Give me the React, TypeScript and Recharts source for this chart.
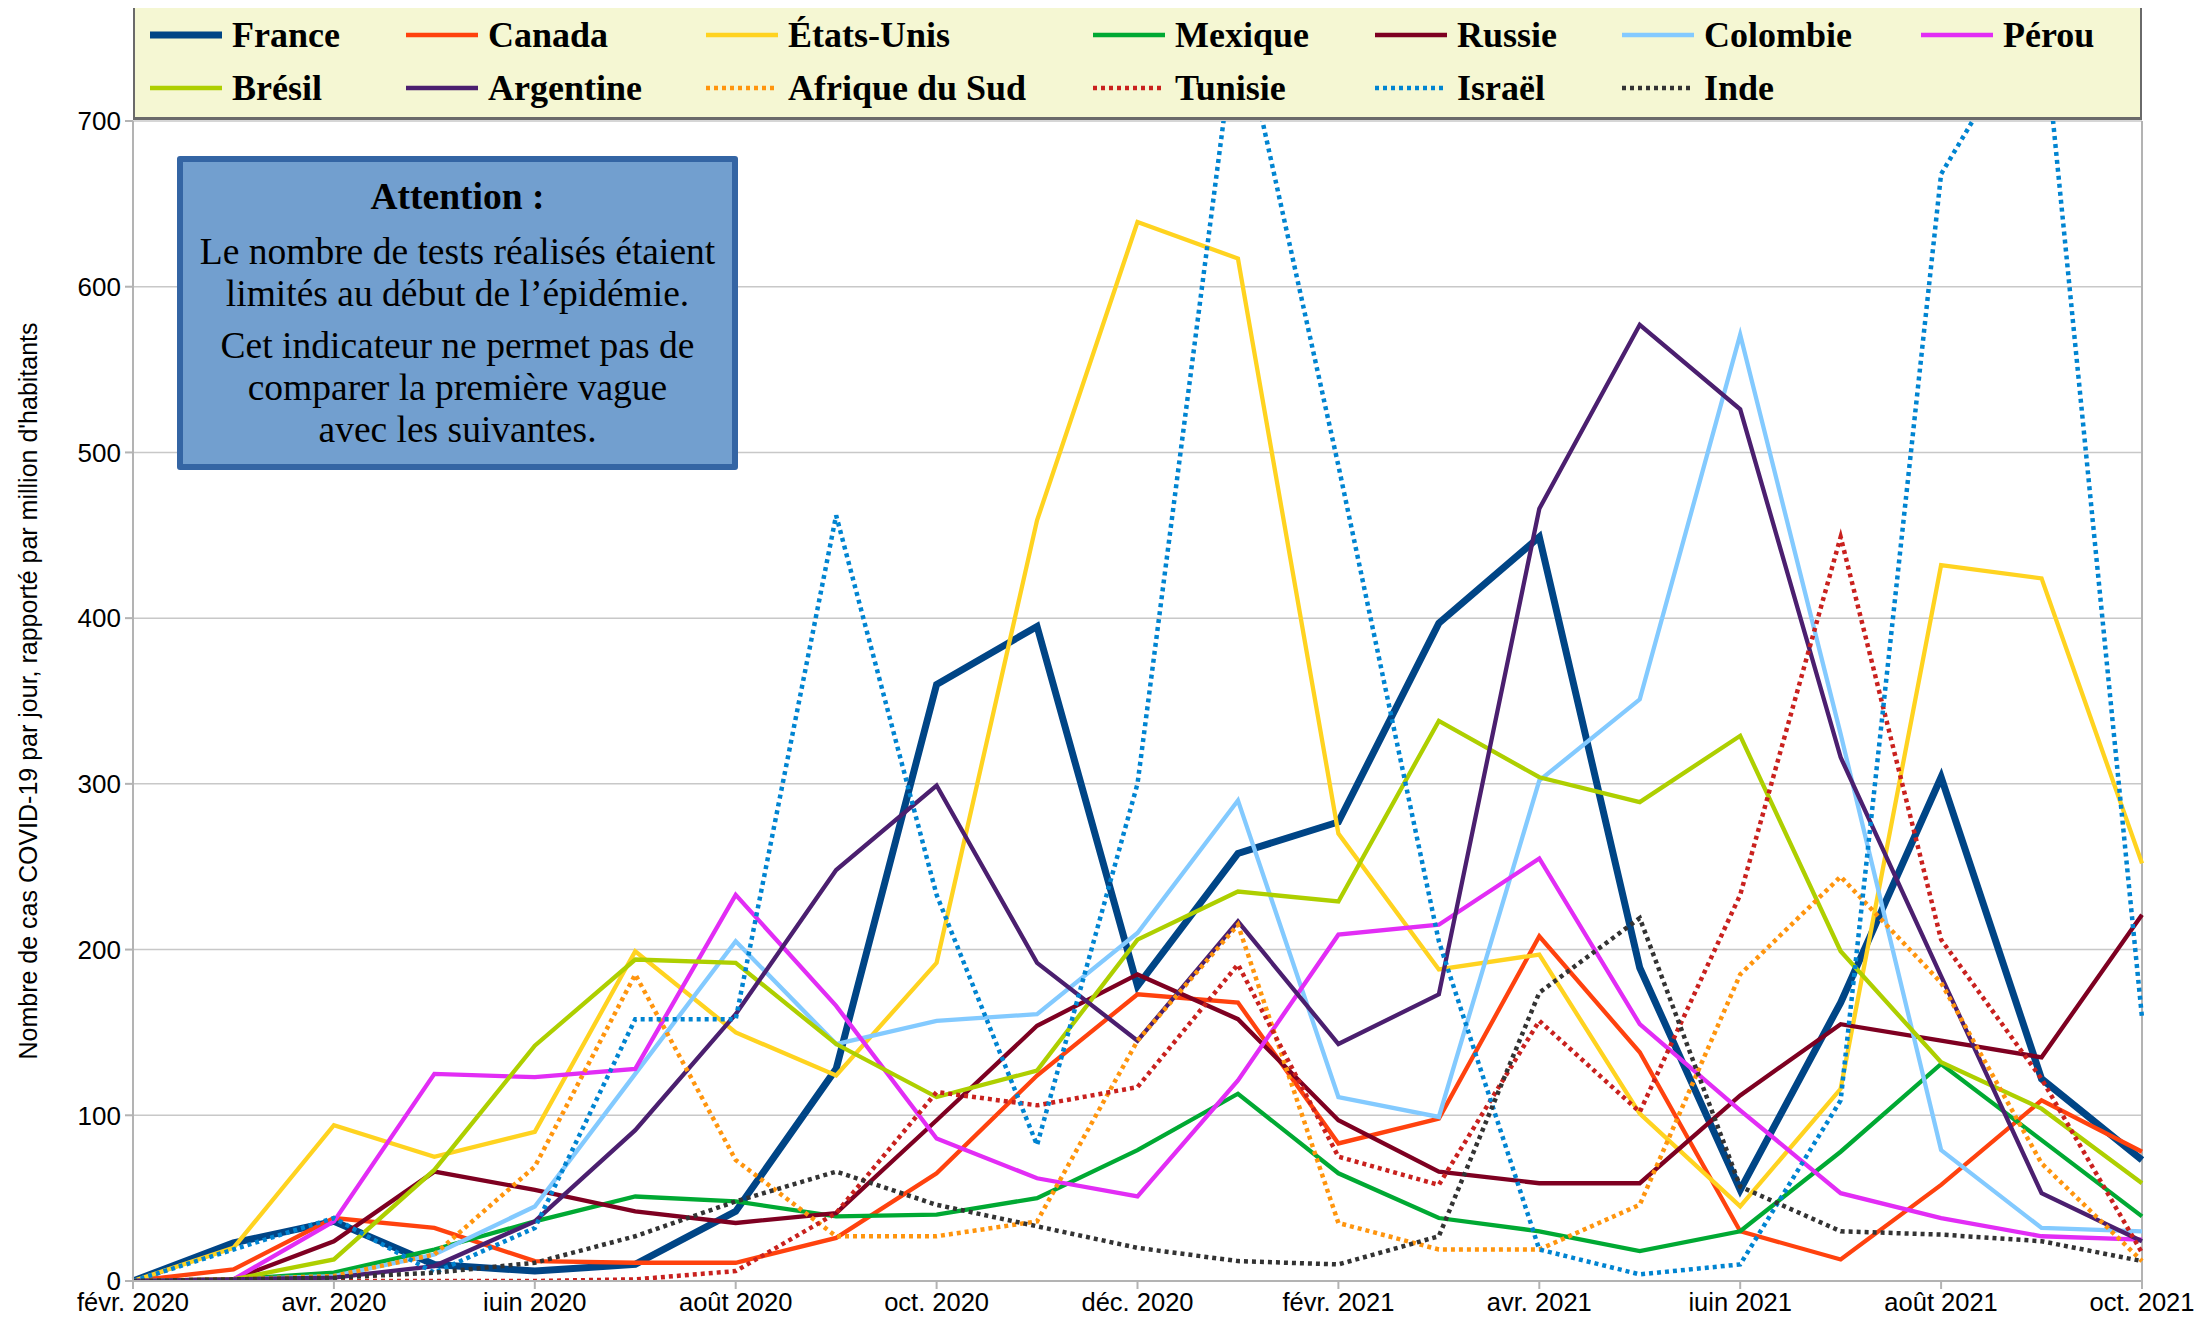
import React from 'react';
import { LineChart, Line, XAxis, YAxis, CartesianGrid, ReferenceLine } from 'recharts';

const months = [
  'févr. 2020', 'mars 2020', 'avr. 2020', 'mai 2020', 'juin 2020', 'juil. 2020', 'août 2020',
  'sept. 2020', 'oct. 2020', 'nov. 2020', 'déc. 2020', 'janv. 2021', 'févr. 2021', 'mars 2021',
  'avr. 2021', 'mai 2021', 'juin 2021', 'juil. 2021', 'août 2021', 'sept. 2021', 'oct. 2021',
];

const yTicks = [0, 100, 200, 300, 400, 500, 600, 700];

const france = [0, 23, 36, 10, 6, 10, 42, 128, 360, 395, 178, 258, 277, 397, 449, 189, 55, 168, 304, 122, 73];
const canada = [0, 7, 38, 32, 12, 11, 11, 26, 65, 124, 173, 168, 83, 98, 208, 138, 30, 13, 58, 109, 78];
const etatsUnis = [0, 20, 94, 75, 90, 199, 150, 124, 192, 459, 639, 617, 270, 188, 197, 101, 45, 116, 432, 424, 252];
const mexique = [0, 1, 5, 19, 36, 51, 48, 39, 40, 50, 79, 113, 65, 38, 30, 18, 30, 78, 131, 85, 39];
const russie = [0, 1, 24, 66, 55, 42, 35, 41, 97, 154, 185, 158, 97, 66, 59, 59, 112, 155, 145, 135, 221];
const colombie = [0, 1, 3, 16, 45, 125, 205, 143, 157, 161, 210, 290, 111, 99, 302, 351, 571, 330, 79, 32, 30];
const perou = [0, 1, 36, 125, 123, 128, 233, 166, 86, 62, 51, 121, 209, 215, 255, 155, 103, 53, 38, 27, 25];
const bresil = [0, 1, 13, 67, 142, 194, 192, 143, 111, 127, 206, 235, 229, 338, 304, 289, 329, 199, 132, 104, 59];
const argentine = [0, 1, 2, 9, 36, 91, 161, 248, 299, 192, 145, 217, 143, 173, 466, 577, 526, 316, 184, 53, 24];
const afriqueDuSud = [0, 1, 3, 16, 69, 185, 73, 27, 27, 36, 145, 215, 35, 19, 19, 46, 185, 244, 180, 71, 12];
const tunisie = [0, 0, 0, 0, 0, 1, 6, 41, 114, 106, 117, 191, 75, 58, 157, 102, 233, 449, 206, 122, 17];
const israel = [0, 19, 38, 5, 32, 158, 158, 462, 233, 82, 300, 767, 492, 205, 19, 4, 10, 109, 668, 770, 159];
const inde = [0, 1, 2, 5, 11, 27, 48, 66, 46, 33, 20, 12, 10, 27, 174, 219, 57, 30, 28, 24, 12];

const seriesDefs = [
  { name: 'France', values: france, color: '#004586', width: 7, dotted: false },
  { name: 'Canada', values: canada, color: '#ff420e', width: 4.3, dotted: false },
  { name: 'États-Unis', values: etatsUnis, color: '#ffd320', width: 4.3, dotted: false },
  { name: 'Mexique', values: mexique, color: '#00a933', width: 4.3, dotted: false },
  { name: 'Russie', values: russie, color: '#7e0021', width: 4.3, dotted: false },
  { name: 'Colombie', values: colombie, color: '#83caff', width: 4.3, dotted: false },
  { name: 'Pérou', values: perou, color: '#e22df5', width: 4.3, dotted: false },
  { name: 'Brésil', values: bresil, color: '#aecf00', width: 4.3, dotted: false },
  { name: 'Argentine', values: argentine, color: '#4b1f6f', width: 4.3, dotted: false },
  { name: 'Afrique du Sud', values: afriqueDuSud, color: '#ff950e', width: 4.5, dotted: true },
  { name: 'Tunisie', values: tunisie, color: '#c9211e', width: 4.5, dotted: true },
  { name: 'Israël', values: israel, color: '#0084d1', width: 4.5, dotted: true },
  { name: 'Inde', values: inde, color: '#333333', width: 4.5, dotted: true },
];

const legendCols = [150, 406, 706, 1093, 1375, 1622, 1921];
const legendRows = [35, 88];

const data = months.map((m, i) => {
  const row: Record<string, string | number> = { month: m };
  seriesDefs.forEach((s) => {
    row[s.name] = s.values[i];
  });
  return row;
});

const serif = '"Liberation Serif", "DejaVu Serif", serif';
const sans = '"Liberation Sans", Arial, sans-serif';

function LegendBox() {
  return (
    <div
      style={{
        position: 'absolute',
        left: 133,
        top: 0,
        width: 2009,
        height: 120,
        background: '#f5f7d3',
        border: '2px solid #6a6a6a',
        borderBottomWidth: 3,
        boxSizing: 'border-box',
      }}
    >
      {seriesDefs.map((s, i) => {
        const col = i % 7;
        const row = Math.floor(i / 7);
        const x = legendCols[col] - 135;
        const y = legendRows[row] - 2;
        return (
          <div
            key={s.name}
            style={{
              position: 'absolute',
              left: x,
              top: y - 22,
              height: 44,
              display: 'flex',
              alignItems: 'center',
              whiteSpace: 'nowrap',
            }}
          >
            <svg width={72} height={12} style={{ display: 'block' }}>
              <line
                x1={0}
                y1={6}
                x2={72}
                y2={6}
                stroke={s.color}
                strokeWidth={s.name === 'France' ? 7 : 4.5}
                strokeDasharray={s.dotted ? '4 4' : undefined}
              />
            </svg>
            <span
              style={{
                marginLeft: 10,
                fontFamily: serif,
                fontWeight: 700,
                fontSize: 36,
                color: '#000',
                lineHeight: '44px',
              }}
            >
              {s.name}
            </span>
          </div>
        );
      })}
    </div>
  );
}

function AttentionBox() {
  const line: React.CSSProperties = { margin: 0, lineHeight: '42px' };
  return (
    <div
      style={{
        position: 'absolute',
        left: 177,
        top: 156,
        width: 561,
        height: 314,
        boxSizing: 'border-box',
        background: '#729fcf',
        border: '6px solid #3465a4',
        borderRadius: 3,
        textAlign: 'center',
        fontFamily: serif,
        fontSize: 37.5,
        color: '#000',
        paddingTop: 14,
      }}
    >
      <div style={{ ...line, fontWeight: 700 }}>Attention :</div>
      <div style={{ ...line, marginTop: 13 }}>Le nombre de tests réalisés étaient</div>
      <div style={line}>limités au début de l’épidémie.</div>
      <div style={{ ...line, marginTop: 10 }}>Cet indicateur ne permet pas de</div>
      <div style={line}>comparer la première vague</div>
      <div style={line}>avec les suivantes.</div>
    </div>
  );
}

const yLabel = "Nombre de cas COVID-19 par jour, rapporté par million d'habitants";

export default function App() {
  return (
    <div
      style={{
        position: 'relative',
        width: 2202,
        height: 1319,
        margin: -8,
        background: '#ffffff',
        overflow: 'hidden',
      }}
    >
      <LineChart
        width={2202}
        height={1319}
        data={data}
        margin={{ top: 121, right: 60, bottom: 0, left: 0 }}
      >
        <CartesianGrid vertical={false} stroke="#c8c8c8" strokeWidth={1.5} />
        <XAxis
          dataKey="month"
          interval={1}
          height={38}
          tickSize={8}
          tickMargin={4}
          stroke="#b3b3b3"
          strokeWidth={2}
          tick={{ fill: '#000', fontSize: 25.5, fontFamily: sans }}
        />
        <YAxis
          width={133}
          domain={[0, 700]}
          ticks={yTicks}
          allowDataOverflow
          tickSize={8}
          tickMargin={4}
          stroke="#b3b3b3"
          strokeWidth={2}
          tick={{ fill: '#000', fontSize: 26, fontFamily: sans }}
          label={{
            value: yLabel,
            content: () => (
              <text
                x={28}
                y={691}
                transform="rotate(-90 28 691)"
                textAnchor="middle"
                dominantBaseline="central"
                fontSize={25}
                fontFamily={sans}
                fill="#000"
              >
                {yLabel}
              </text>
            ),
          }}
        />
        <ReferenceLine x="oct. 2021" stroke="#b3b3b3" strokeWidth={2} />
        {seriesDefs.map((s) => (
          <Line
            key={s.name}
            type="linear"
            dataKey={s.name}
            stroke={s.color}
            strokeWidth={s.width}
            strokeDasharray={s.dotted ? '4 4' : undefined}
            dot={false}
            activeDot={false}
            isAnimationActive={false}
            strokeLinejoin="miter"
          />
        ))}
      </LineChart>
      <LegendBox />
      <AttentionBox />
    </div>
  );
}
